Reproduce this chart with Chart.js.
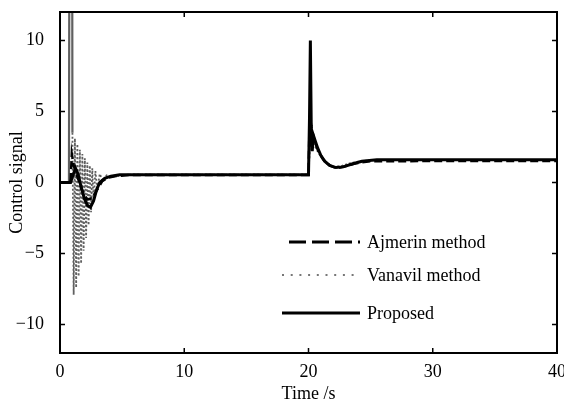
<!DOCTYPE html>
<html>
<head>
<meta charset="utf-8">
<script src="https://cdn.jsdelivr.net/npm/chart.js@4"></script>
<style>
  html, body { margin: 0; padding: 0; background: #fff; overflow: hidden; }
  #box { position: relative; width: 564px; height: 407px; }
</style>
</head>
<body>
<div id="box"><canvas id="chartCtrl"></canvas></div>
<script>
// time (s) and control signal for each method
var ajmerinT = [0, 0.85, 0.95, 1.1, 1.4, 1.8, 2.2, 2.6, 3.0, 3.4, 3.9, 4.5, 5.5,
  20.0, 20.1, 20.25, 20.5, 20.8, 21.2, 21.7, 22.3, 23.0, 23.8, 25.0, 40];
var ajmerinV = [0, 0, 2.0, 1.2, 0.4, -0.6, -1.2, -1.1, -0.5, 0.1, 0.35, 0.45, 0.52,
  0.52, 4.7, 3.8, 2.9, 2.2, 1.6, 1.2, 1.0, 1.15, 1.35, 1.5, 1.52];

var vanavilT = [0, 0.72, 0.8, 0.95,
  1.0, 1.1, 1.2, 1.3, 1.4, 1.5, 1.6, 1.7, 1.8, 1.9, 2.0, 2.1, 2.2, 2.3, 2.4, 2.5, 2.6, 2.7,
  2.85, 3.0, 3.2, 3.45, 3.75, 4.2, 5.5,
  20.0, 20.15, 20.3, 20.6, 21.0, 21.5, 22.0, 22.6, 23.3, 24.2, 25.5, 40];
var vanavilV = [0, 0, 40, 40,
  3.5, -7.9, 3.1, -7.4, 2.7, -6.6, 2.3, -5.7, 2.0, -4.8, 1.7, -3.9, 1.4, -3.0, 1.2, -2.1, 1.0, -1.3,
  0.8, -0.5, 0.6, 0.1, 0.5, 0.4, 0.55,
  0.55, 3.2, 3.0, 2.4, 1.8, 1.3, 1.1, 1.15, 1.35, 1.5, 1.58, 1.58];

var proposedT = [0, 0.85, 1.0, 1.25, 1.45, 1.7, 1.95, 2.2, 2.45, 2.7, 2.95, 3.2, 3.6, 4.1, 4.8, 5.5,
  20.0, 20.08, 20.15, 20.22, 20.3, 20.4, 20.55, 20.75, 21.0, 21.3, 21.7, 22.2, 22.8, 23.5, 24.3, 25.5, 40];
var proposedV = [0, 0, 0.4, 1.0, 0.6, -0.3, -1.1, -1.6, -1.75, -1.3, -0.5, 0.0, 0.3, 0.45, 0.55, 0.55,
  0.55, 4.5, 10, 4.0, 2.2, 3.3, 2.9, 2.4, 1.9, 1.5, 1.2, 1.05, 1.1, 1.3, 1.5, 1.6, 1.6];

var xTicks = [0, 10, 20, 30, 40];
var yTicks = [-10, -5, 0, 5, 10];
var legendNames = ['Ajmerin method', 'Vanavil method', 'Proposed'];

var serif = "'Liberation Serif', 'Times New Roman', serif";

function toPoints(ts, vs) {
  return ts.map(function (t, i) { return { x: t, y: vs[i] }; });
}

// box around the plot with inward ticks, like the original figure
var frame = {
  id: 'frame',
  afterDatasetsDraw: function (chart) {
    var a = chart.chartArea, c = chart.ctx;
    var xs = chart.scales.x, ys = chart.scales.y;
    c.save();
    c.strokeStyle = '#000';
    c.lineWidth = 2;
    c.strokeRect(a.left, a.top, a.right - a.left, a.bottom - a.top);
    c.lineWidth = 1.5;
    c.beginPath();
    xTicks.slice(1, -1).forEach(function (v) {
      var px = xs.getPixelForValue(v);
      c.moveTo(px, a.bottom); c.lineTo(px, a.bottom - 5);
      c.moveTo(px, a.top); c.lineTo(px, a.top + 5);
    });
    yTicks.forEach(function (v) {
      var py = ys.getPixelForValue(v);
      c.moveTo(a.left, py); c.lineTo(a.left + 5, py);
      c.moveTo(a.right, py); c.lineTo(a.right - 5, py);
    });
    c.stroke();
    c.restore();
  }
};

var innerLegend = {
  id: 'innerLegend',
  afterDraw: function (chart) {
    var c = chart.ctx;
    var rows = [
      { y: 242, color: '#000', width: 3, dash: [17, 6], x0: 289 },
      { y: 275, color: '#777', width: 2, dash: [2, 6.7], x0: 282 },
      { y: 313, color: '#000', width: 3, dash: [], x0: 282 }
    ];
    c.save();
    c.font = '18px ' + serif;
    c.textBaseline = 'middle';
    rows.forEach(function (r, i) {
      c.strokeStyle = r.color;
      c.lineWidth = r.width;
      c.setLineDash(r.dash);
      c.beginPath();
      c.moveTo(r.x0, r.y);
      c.lineTo(360, r.y);
      c.stroke();
      c.fillStyle = '#000';
      c.fillText(legendNames[i], 367, r.y + 1);
    });
    c.restore();
  }
};

var ctx = document.getElementById('chartCtrl');
var myChart = new Chart(ctx, {
  type: 'line',
  data: {
    datasets: [
      {
        label: legendNames[2],
        data: toPoints(proposedT, proposedV),
        borderColor: '#000',
        borderWidth: 3,
        order: 0
      },
      {
        label: legendNames[0],
        data: toPoints(ajmerinT, ajmerinV),
        borderColor: '#000',
        borderWidth: 2.5,
        borderDash: [8, 4],
        order: 1
      },
      {
        label: legendNames[1],
        data: toPoints(vanavilT, vanavilV),
        borderColor: '#606060',
        borderWidth: 1.8,
        borderDash: [2, 2],
        segment: {
          // the first spike goes off the top, it shows as a solid grey stroke
          borderDash: function (s) {
            return (s.p0.parsed.y > 12 || s.p1.parsed.y > 12) ? [] : undefined;
          },
          borderWidth: function (s) {
            return (s.p0.parsed.y > 12 || s.p1.parsed.y > 12) ? 2.2 : undefined;
          }
        },
        order: 2
      }
    ]
  },
  options: {
    responsive: true,
    maintainAspectRatio: false,
    animation: false,
    elements: {
      point: { radius: 0 },
      line: { tension: 0, borderCapStyle: 'butt', borderJoinStyle: 'miter' }
    },
    layout: { padding: { top: 12, right: 7, left: 0, bottom: 0 } },
    scales: {
      x: {
        type: 'linear',
        min: 0,
        max: 40,
        grid: { display: false },
        border: { display: false },
        afterBuildTicks: function (scale) {
          scale.ticks = xTicks.map(function (v) { return { value: v }; });
        },
        afterFit: function (scale) {
          scale.height = 54;
          // let the "40" run off the right edge as in the original
          scale.paddingLeft = 0;
          scale.paddingRight = 0;
        },
        ticks: {
          color: '#000',
          padding: 0,
          maxRotation: 0,
          font: { family: serif, size: 18 }
        },
        title: {
          display: true,
          text: 'Time /s',
          color: '#000',
          padding: { top: 0, bottom: 2 },
          font: { family: serif, size: 18 }
        }
      },
      y: {
        min: -12,
        max: 12,
        grid: { display: false },
        border: { display: false },
        afterBuildTicks: function (scale) {
          scale.ticks = yTicks.map(function (v) { return { value: v }; });
        },
        afterFit: function (scale) {
          scale.width = 60;
          scale.paddingTop = 0;
          scale.paddingBottom = 0;
        },
        ticks: {
          color: '#000',
          padding: 8,
          font: { family: serif, size: 18 },
          callback: function (v) { return String(v).replace('-', '\u2212'); }
        },
        title: {
          display: true,
          text: 'Control signal',
          color: '#000',
          padding: { top: 6, bottom: 0 },
          font: { family: serif, size: 18 }
        }
      }
    },
    plugins: {
      legend: { display: false },
      tooltip: { enabled: false }
    }
  },
  plugins: [frame, innerLegend]
});
</script>
</body>
</html>
